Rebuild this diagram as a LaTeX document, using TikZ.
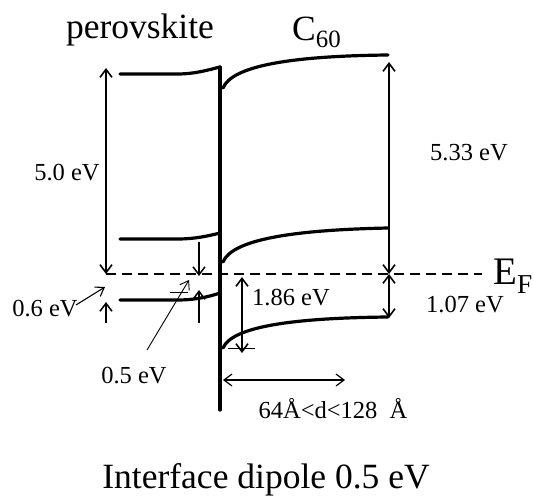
\documentclass[tikz,border=0pt]{standalone}
\usepackage{fontspec}
\setmainfont{Liberation Serif}
\usetikzlibrary{arrows.meta}

\begin{document}
\begin{tikzpicture}[
    x=1pt, y=-1pt,
    band/.style={line width=3.2pt, line cap=round},
    gap/.style={{Straight Barb[length=8pt,width=12pt]}-{Straight Barb[length=8pt,width=12pt]}, line width=1.6pt},
    onearr/.style={-{Straight Barb[length=8pt,width=12pt]}, line width=1.5pt},
    pointer/.style={-{Straight Barb[length=8pt,width=11pt]}, line width=1.1pt},
    fermi/.style={dashed, dash pattern=on 10pt off 6pt, line width=1.5pt},
    biglabel/.style={font=\fontsize{35.5}{38}\selectfont, inner sep=0pt, anchor=base},
    lbl/.style={font=\fontsize{24.5}{27}\selectfont, inner sep=0pt, anchor=base},
]
\useasboundingbox (0,0) rectangle (533,498);

% perovskite bands
\draw[band] (120,74) -- (177,74) .. controls (195,74) and (208,70) .. (220,67);
\draw[band] (120,239) -- (177,239) .. controls (195,239) and (208,236) .. (220,233);
\draw[band] (120,300) -- (177,300) .. controls (195,300) and (208,297) .. (220,293);
% interface
\draw[band] (220,67) -- (220,410);
% C60 bands
\draw[band] (223,88) .. controls (232,66) and (290,56) .. (388,55);
\draw[band] (223,262) .. controls (232,240) and (290,230) .. (388,228);
\draw[band] (223,348) .. controls (232,327) and (290,318) .. (388,317);

% Fermi level
\coordinate (efl) at (106,274);
\coordinate (efr) at (482,274);
\draw[fermi] (efl) -- (efr);
\node[inner sep=0pt, anchor=base west, font=\fontsize{39}{42}\selectfont] (ef) at (493,284) {E\textsubscript{F}};

% energy arrows
\coordinate (wt) at (106,68);
\coordinate (ct) at (389,62);
\coordinate (cef) at (389,274);
\coordinate (cvb) at (389,318);
\draw[gap] (wt) -- (efl);
\draw[gap] (ct) -- (cef);
\draw[gap] (cef) -- (cvb);
\coordinate (lb) at (242,353);
\draw[gap] (242,277) -- (lb);
\draw[line width=1pt] (228,348) -- (255,348);

\draw[onearr] (106,323) -- (106,302);
\draw[onearr] (199,242) -- (199,276);
\draw[onearr] (199,323) -- (199,290);
\draw[line width=1pt] (170,292) -- (188,292);

\coordinate (dl) at (223,380);
\coordinate (dr) at (345,380);
\draw[gap, line width=1.2pt] (dl) -- (dr);

% labels
\node[biglabel] (pero) at (140,38) {perovskite};
\node[biglabel, anchor=base west] (c60) at (292,40) {C\textsubscript{60}};
\node[lbl] (l50) at (67,180) {5.0 eV};
\node[lbl] (l533) at (469,160) {5.33 eV};
\node[lbl] (l107) at (465,312) {1.07 eV};
\node[lbl] (l186) at (291,305) {1.86 eV};
\node[lbl] (l06) at (45,316) {0.6 eV};
\node[lbl] (l05) at (134,383) {0.5 eV};
\node[lbl] (ld) at (333,418) {64Å<d<128\ \ Å};
\node[biglabel] (dip) at (266,488) {Interface dipole 0.5 eV};

\draw[pointer] (76,305) -- (105,287);
\draw[pointer, line width=0.9pt] (147,350) -- (189,280);

\end{tikzpicture}
\end{document}
